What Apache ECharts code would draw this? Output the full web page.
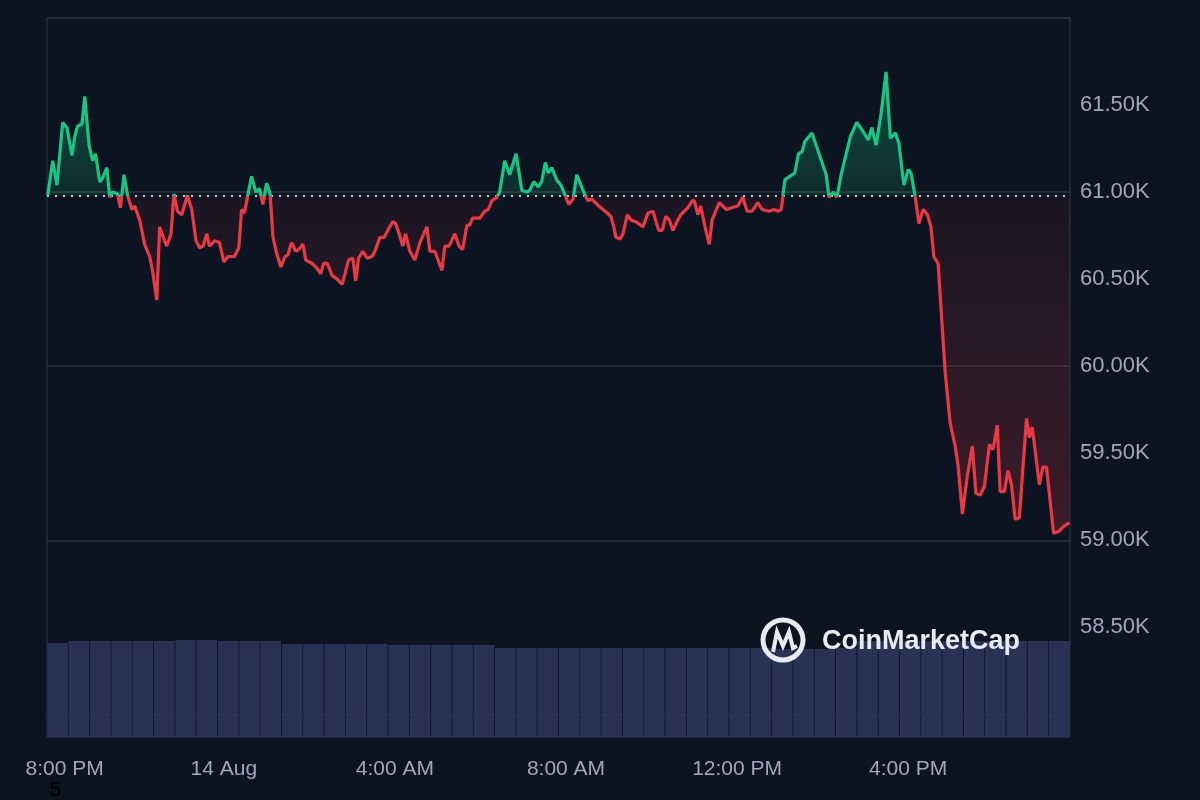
<!DOCTYPE html>
<html><head><meta charset="utf-8">
<script src="https://cdn.jsdelivr.net/npm/echarts@6/dist/echarts.min.js"></script>
<style>html,body{margin:0;background:#0d1421}#c{width:1200px;height:800px}</style>
</head><body><div id="c"></div>
<script>
// minutes after 8:00 PM (13 Aug)
const minutes = [-7,0,6,14,20,27,31,35,41,45,51,56,60,66,70,76,80,84,91,95,100,105,111,115,122,129,136,140,146,150,156,160,166,170,175,181,189,195,201,206,211,216,220,227,234,240,246,255,261,265,269,274,279,285,290,295,300,305,309,314,320,326,330,335,341,345,351,355,364,371,376,380,385,392,399,406,410,415,421,425,429,435,441,448,452,459,465,470,477,481,486,491,495,501,508,515,525,529,536,546,550,556,564,570,575,581,585,589,599,606,611,616,623,627,634,641,650,658,665,669,675,681,686,691,695,700,707,
713,720,724,730,735,741,747,751,756,766,775,783,787,790,796,800,806,811,818,828,835,842,850,855,860,865,870,877,881,891,897,900,905,909,915,921,925,935,945,952,961,968,974,981,989,995,1005,1012,1018,1022,1027,1034,1041,1046,1051,1055,1065,1075,1085,1089,1095,1100,1106,1119,1128,1138,1144,1149,1155,1162,1169,1175,1182,1187,1194,1200,1204,1210,1215,1221,1227,1232,1236,1242,1248,1252,1259,1266,1270,1276,1283,1290,1295,1301,1307,1314,1319,1325,1329,1335,1340,1345,1350,1356,1366,1370,1374,1384,1389,1394,1404,1411,1418,1426];
// price in thousands USD
const price = [60.98,61.18,61.04,61.40,61.37,61.21,61.32,61.38,61.39,61.55,61.27,61.18,61.22,61.06,61.08,61.14,60.97,61.0,60.99,60.91,61.10,60.98,60.90,60.92,60.84,60.70,60.63,60.55,60.38,60.80,60.73,60.69,60.76,60.99,60.89,60.87,60.98,60.90,60.72,60.68,60.69,60.76,60.69,60.72,60.71,60.60,60.63,60.63,60.68,60.90,60.88,60.99,61.09,61.0,61.02,60.93,61.05,60.99,60.74,60.65,60.57,60.63,60.64,60.71,60.66,60.67,60.70,60.61,60.59,60.56,60.53,60.59,60.59,60.52,60.50,60.47,60.53,60.61,60.62,60.49,60.62,60.66,60.62,60.63,60.66,60.74,60.74,60.78,60.83,60.82,60.76,60.69,60.76,60.66,60.61,60.71,60.80,60.66,60.66,60.55,60.69,60.69,60.76,60.69,60.67,60.81,60.81,60.85,60.85,60.89,60.90,60.95,60.97,61.0,61.18,61.10,61.22,61.01,61.0,61.01,61.06,61.03,61.06,61.17,61.11,61.14,61.07,
61.04,60.97,60.93,60.96,61.10,61.04,60.98,60.95,60.96,60.92,60.89,60.86,60.80,60.74,60.73,60.76,60.87,60.84,60.83,60.80,60.88,60.89,60.78,60.78,60.86,60.84,60.78,60.84,60.87,60.91,60.95,60.95,60.87,60.92,60.80,60.70,60.84,60.94,60.90,60.91,60.92,60.97,60.89,60.89,60.94,60.90,60.89,60.90,60.89,60.90,61.07,61.09,61.11,61.22,61.23,61.29,61.34,61.22,61.10,60.97,61.0,60.97,61.10,61.32,61.40,61.34,61.30,61.37,61.27,61.45,61.69,61.31,61.34,61.28,61.04,61.13,61.11,60.97,60.82,60.90,60.87,60.80,60.63,60.59,60.21,59.96,59.67,59.54,59.43,59.15,59.37,59.54,59.27,59.26,59.31,59.55,59.52,59.66,59.28,59.28,59.40,59.32,59.12,59.13,59.70,59.59,59.65,59.32,59.42,59.42,59.04,59.05,59.08,59.10];
const openPrice = 60.98;
// half-hour volume (relative)
const volume = [94,96,96,96,96,96,97,97,96,96,96,93,93,93,93,93,92,92,92,92,92,89,89,89,89,89,89,89,89,89,89,89,89,89,88,88,88,89,96,96,96,96,96,96,96,96,96,96];
const xTickValues = [0,240,480,720,960,1200];
const xTickLabels = ['8:00 PM','14 Aug','4:00 AM','8:00 AM','12:00 PM','4:00 PM'];
const yTicks = [58.5,59.0,59.5,60.0,60.5,61.0,61.5];
const yMin = 57.87, yMax = 62.0;

const priceData = minutes.map((m,i)=>[m,price[i]]);
const chart = echarts.init(document.getElementById('c'));
chart.setOption({
  backgroundColor:'#0d1421',
  animation:false,
  grid:[{left:47,right:130,top:18,bottom:63,show:true,borderColor:'#323a4a',borderWidth:1}],
  xAxis:[{type:'value',min:-8,max:1427,
    axisLine:{show:false},axisTick:{show:false},splitLine:{show:false},
    axisLabel:{color:'#a1a7bb',fontSize:21,margin:22,fontFamily:'Liberation Sans, Arial',
      customValues:xTickValues,
      formatter:v=>{const i=xTickValues.indexOf(v);return i===0?'{f|'+xTickLabels[0]+'}':(xTickLabels[i]||'');},
      rich:{f:{padding:[0,0,0,24],fontSize:21,color:'#a1a7bb',fontFamily:'Liberation Sans, Arial'}}}},
   {type:'category',data:volume.map((v,i)=>i),show:false,boundaryGap:true}],
  yAxis:[{type:'value',min:yMin,max:yMax,position:'right',
    axisLine:{show:false},axisTick:{show:false},
    axisLabel:{color:'#a1a7bb',fontSize:22,margin:10,padding:[8,0,0,0],fontFamily:'Liberation Sans, Arial',
      customValues:yTicks,formatter:v=>v.toFixed(2)+'K'},
    splitLine:{show:true,lineStyle:{color:'#2b3240',width:1.5}}},
   {type:'value',min:0,max:719,show:false,splitLine:{show:false}}],
  series:[
    {type:'bar',xAxisIndex:1,yAxisIndex:1,data:volume,barCategoryGap:'4%',itemStyle:{color:'#283255'},silent:true},
    {type:'line',id:'price',data:priceData,showSymbol:false,lineStyle:{width:3.2,color:'#ea3943'},z:5,
     markLine:{symbol:'none',silent:true,label:{show:false},data:[{yAxis:openPrice}],
       lineStyle:{color:'#c8ccd8',type:[2,6],width:2}}}
  ],
  graphic:[
    {type:'circle',shape:{cx:783,cy:640,r:20},style:{fill:'none',stroke:'#e8eaf0',lineWidth:5},z:100},
    {type:'polyline',shape:{points:[[773,652],[777,632],[783,646],[789,632],[793,648],[797,646]]},style:{fill:'none',stroke:'#e8eaf0',lineWidth:4},z:100},
    {type:'text',x:822,y:642,style:{text:'CoinMarketCap',fill:'#e8eaf0',font:'bold 27px Liberation Sans, Arial',textVerticalAlign:'middle'},z:100},
    {type:'text',x:50,y:780,style:{text:'5',fill:'#000000',font:'20px Liberation Sans, Arial'}}
  ]
});
const H = 800;
const by = chart.convertToPixel({yAxisIndex:0}, openPrice);
const ty = chart.convertToPixel({yAxisIndex:0}, yMax);
const b = by / H;
chart.setOption({series:[{},{id:'price',
  lineStyle:{color:{type:'linear',x:0,y:0,x2:0,y2:H,global:true,colorStops:[
    {offset:0,color:'#16c784'},{offset:b,color:'#16c784'},{offset:b,color:'#ea3943'},{offset:1,color:'#ea3943'}]}},
  areaStyle:{origin:openPrice,opacity:1,color:{type:'linear',x:0,y:0,x2:0,y2:H,global:true,colorStops:[
    {offset:ty/H,color:'rgba(22,199,132,0.45)'},{offset:b,color:'rgba(22,199,132,0.12)'},
    {offset:b,color:'rgba(234,57,67,0.06)'},{offset:0.68,color:'rgba(234,57,67,0.22)'},{offset:1,color:'rgba(234,57,67,0.22)'}]}}
}]});
</script></body></html>
